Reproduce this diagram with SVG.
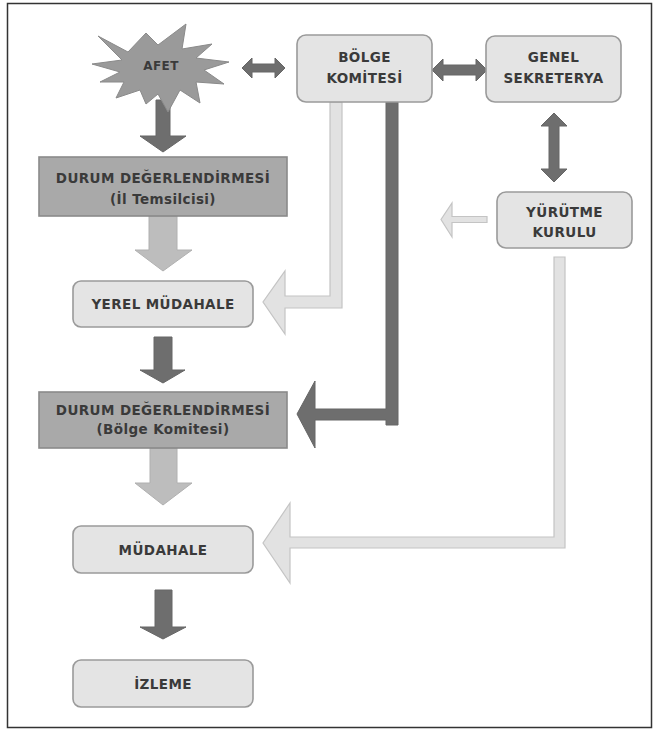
<svg xmlns="http://www.w3.org/2000/svg" width="653" height="729" viewBox="0 0 653 729">
<style>
.box{fill:#e4e4e4;stroke:#9a9a9a;stroke-width:1.6}
.dbox{fill:#a9a9a9;stroke:#8a8a8a;stroke-width:1.6}
.t{font-family:"DejaVu Sans",sans-serif;font-weight:bold;font-size:13.5px;letter-spacing:0.4px;fill:#3a3a3a;text-anchor:middle}
.dark{fill:#6e6e6e;stroke:#666;stroke-width:1}
.mid{fill:#bdbdbd;stroke:#b0b0b0;stroke-width:1}
.light{fill:#e2e2e2;stroke:#c4c4c4;stroke-width:1.2}
</style>
<rect x="7.5" y="3.5" width="644" height="724" fill="#fff" stroke="#333" stroke-width="1.5"/>
<g id="connectors">
<polygon class="dark" points="156,100 170,100 170,136 186,136 163,152 140,136 156,136"/>
<polygon class="dark" points="242,68 252,58 252,64 275,64 275,58 285,68 275,78 275,72 252,72 252,78"/>
<polygon class="dark" points="432,70 443,59 443,65 476,65 476,59 487,70 476,81 476,75 443,75 443,81"/>
<polygon class="dark" points="554,113 567,126 559,126 559,169 567,169 554,182 541,169 549,169 549,126 541,126"/>
<polygon class="mid" points="149,216 177,216 177,250 192,250 163,271 135,250 149,250"/>
<polygon class="light" points="330,102 342,102 342,308 285,308 285,334 263,302 285,271 285,296 330,296"/>
<polygon class="dark" points="386,102 398,102 398,425 386,425 386,420 315,420 315,448 297,414 315,381 315,409 386,409"/>
<polygon class="light" points="487,216.5 487,222.5 452,222.5 452,237 441,219.5 452,203 452,216.5"/>
<polygon class="dark" points="154,337 172,337 172,370 185,370 163,383 140,370 154,370"/>
<polygon class="mid" points="150,448 177,448 177,483 192,483 163,505 135,483 150,483"/>
<polygon class="light" points="554,257 565,257 565,548 290,548 290,583 263,543 290,503 290,537 554,537"/>
<polygon class="dark" points="155,590 172,590 172,627 186,627 163,639 140,627 155,627"/>
</g>
<g id="afet">
<polygon fill="#9a9a9a" stroke="#8a8a8a" stroke-width="1" points="98,36 128,52 146,33 158,45 186,24 182,49 212,44 196,58 229,62 204,70 224,84 196,82 200,103 180,90 168,112 158,94 146,104 140,90 116,98 124,82 100,82 120,72 92,64 122,60"/>
<text class="t" x="161" y="70" style="font-size:12px">AFET</text>
</g>
<g id="bolge">
<rect class="box" x="297" y="35" width="135" height="67" rx="9"/>
<text class="t" x="364.5" y="62">BÖLGE</text>
<text class="t" x="364.5" y="83">KOMİTESİ</text>
</g>
<g id="genel">
<rect class="box" x="486" y="36" width="135" height="66" rx="9"/>
<text class="t" x="553.5" y="62">GENEL</text>
<text class="t" x="553.5" y="83">SEKRETERYA</text>
</g>
<g id="yurutme">
<rect class="box" x="497" y="192" width="135" height="56" rx="9"/>
<text class="t" x="564.5" y="217">YÜRÜTME</text>
<text class="t" x="564.5" y="237">KURULU</text>
</g>
<g id="durum1">
<rect class="dbox" x="39" y="157" width="248" height="59"/>
<text class="t" x="163" y="183">DURUM DEĞERLENDİRMESİ</text>
<text class="t" x="163" y="204">(İl Temsilcisi)</text>
</g>
<g id="yerel">
<rect class="box" x="73" y="281" width="180" height="46" rx="8"/>
<text class="t" x="163" y="309">YEREL MÜDAHALE</text>
</g>
<g id="durum2">
<rect class="dbox" x="39" y="392" width="248" height="56"/>
<text class="t" x="163" y="415">DURUM DEĞERLENDİRMESİ</text>
<text class="t" x="163" y="434">(Bölge Komitesi)</text>
</g>
<g id="mudahale">
<rect class="box" x="73" y="526" width="180" height="47" rx="8"/>
<text class="t" x="163" y="555">MÜDAHALE</text>
</g>
<g id="izleme">
<rect class="box" x="73" y="660" width="180" height="47" rx="8"/>
<text class="t" x="163" y="689">İZLEME</text>
</g>
</svg>
